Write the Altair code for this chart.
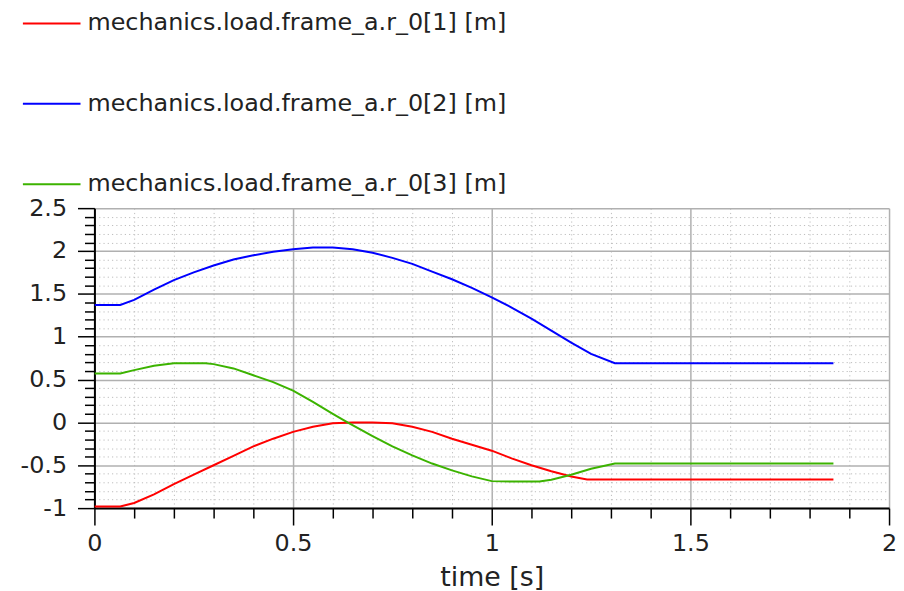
import altair as alt
import pandas as pd

# ---- data ----
names = [
    "mechanics.load.frame_a.r_0[1] [m]",
    "mechanics.load.frame_a.r_0[2] [m]",
    "mechanics.load.frame_a.r_0[3] [m]",
]
colors = ["#ff0000", "#0000ff", "#3cb300"]

t1 = [0, 0.065, 0.1, 0.15, 0.2, 0.25, 0.3, 0.35, 0.4, 0.45, 0.5, 0.55, 0.6, 0.65,
      0.7, 0.75, 0.8, 0.85, 0.9, 0.95, 1.0, 1.05, 1.1, 1.15, 1.2, 1.24, 1.86]
r1 = [-0.98, -0.98, -0.94, -0.84, -0.72, -0.61, -0.50, -0.39, -0.28, -0.19, -0.11,
      -0.05, -0.01, 0.0, 0.0, -0.01, -0.05, -0.11, -0.19, -0.26, -0.33, -0.42,
      -0.50, -0.57, -0.63, -0.665, -0.665]

t2 = [0, 0.065, 0.1, 0.15, 0.2, 0.25, 0.3, 0.35, 0.4, 0.45, 0.5, 0.55, 0.6, 0.65,
      0.7, 0.75, 0.8, 0.85, 0.9, 0.95, 1.0, 1.05, 1.1, 1.15, 1.2, 1.25, 1.31, 1.86]
r2 = [1.37, 1.37, 1.43, 1.55, 1.66, 1.75, 1.83, 1.90, 1.95, 1.99, 2.02, 2.04, 2.04,
      2.02, 1.98, 1.92, 1.85, 1.76, 1.67, 1.57, 1.46, 1.34, 1.21, 1.07, 0.93, 0.80,
      0.69, 0.69]

t3 = [0, 0.065, 0.1, 0.15, 0.2, 0.28, 0.3, 0.35, 0.4, 0.45, 0.5, 0.55, 0.6, 0.637,
      0.7, 0.75, 0.8, 0.85, 0.9, 0.95, 1.0, 1.05, 1.12, 1.15, 1.2, 1.25, 1.31, 1.86]
r3 = [0.57, 0.57, 0.61, 0.66, 0.69, 0.69, 0.68, 0.63, 0.55, 0.47, 0.37, 0.24, 0.10,
      0.0, -0.16, -0.28, -0.385, -0.48, -0.56, -0.63, -0.685, -0.69, -0.69, -0.67,
      -0.61, -0.54, -0.48, -0.48]

x_ticks = [0, 0.1, 0.2, 0.3, 0.4, 0.5, 0.6, 0.7, 0.8, 0.9, 1.0, 1.1, 1.2, 1.3, 1.4,
           1.5, 1.6, 1.7, 1.8, 1.9, 2.0]
y_ticks = [-1.0, -0.9, -0.8, -0.7, -0.6, -0.5, -0.4, -0.3, -0.2, -0.1, 0.0, 0.1, 0.2,
           0.3, 0.4, 0.5, 0.6, 0.7, 0.8, 0.9, 1.0, 1.1, 1.2, 1.3, 1.4, 1.5, 1.6, 1.7,
           1.8, 1.9, 2.0, 2.1, 2.2, 2.3, 2.4, 2.5]

rows = []
for name, ts, vs in zip(names, [t1, t2, t3], [r1, r2, r3]):
    for t, v in zip(ts, vs):
        rows.append({"time": t, "value": v, "series": name})
df = pd.DataFrame(rows)

MAJOR = "abs(datum.value*2 - round(datum.value*2)) < 0.001"
FONT = "DejaVu Sans"


def axis(title=None, **kw):
    base = dict(
        labelExpr=MAJOR + " ? toString(datum.value) : ''",
        labelFont=FONT,
        labelFontSize=24,
        labelColor="#222222",
        labelFlush=False,
        labelOverlap=False,
        labelBound=False,
        domainColor="#000000",
        domainWidth=2,
        tickColor="#000000",
        tickWidth=1.5,
        tickSize={"condition": {"test": MAJOR, "value": 17}, "value": 10},
        grid=True,
        gridColor={"condition": {"test": MAJOR, "value": "#b0b0b0"}, "value": "#bdbdbd"},
        gridWidth={"condition": {"test": MAJOR, "value": 1.5}, "value": 1},
        gridDash={"condition": {"test": MAJOR, "value": []}, "value": [1.2, 3.1]},
    )
    base["title"] = title
    base.update(kw)
    return alt.Axis(**base)


chart = (
    alt.Chart(df)
    .mark_line(strokeWidth=2, clip=True)
    .encode(
        x=alt.X(
            "time:Q",
            scale=alt.Scale(domain=[0, 2], nice=False, zero=False),
            axis=axis(
                "time [s]",
                values=x_ticks,
                labelPadding=7,
                titleFont=FONT,
                titleFontSize=27,
                titleFontWeight="normal",
                titleColor="#222222",
                titleBaseline="alphabetic",
                titleY=78,
            ),
        ),
        y=alt.Y(
            "value:Q",
            scale=alt.Scale(domain=[-1, 2.5], nice=False, zero=False),
            axis=axis(None, values=y_ticks, labelPadding=11),
        ),
        color=alt.Color(
            "series:N",
            sort=names,
            scale=alt.Scale(domain=names, range=colors),
            legend=alt.Legend(
                title=None,
                orient="none",
                legendX=-73,
                legendY=-216,
                symbolType="stroke",
                symbolSize=3364,
                symbolStrokeWidth=2,
                labelFont=FONT,
                labelFontSize=24,
                labelColor="#222222",
                labelOffset=6,
                labelLimit=0,
                rowPadding=39,
                padding=0,
            ),
        ),
        detail="series:N",
    )
    .properties(
        width=800,
        height=302,
        autosize=alt.AutoSizeParams(type="none"),
        padding={"left": 87, "top": 199.5, "right": 7, "bottom": 90},
    )
    .configure_view(strokeWidth=0)
)

chart.save("out.html", embed_options={"renderer": "svg", "actions": False})
